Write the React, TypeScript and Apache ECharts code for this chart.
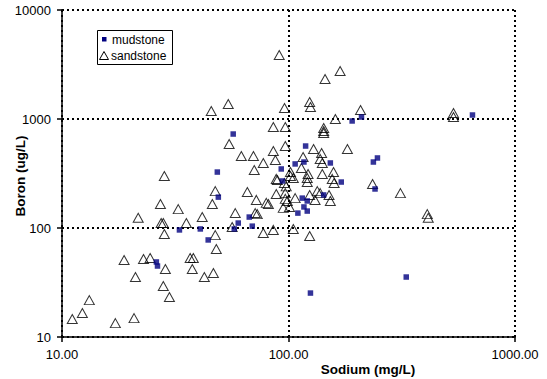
import React, { useEffect, useRef } from 'react';
import * as echarts from 'echarts';

const FONT = "'Liberation Sans', Arial, sans-serif";

// Mudstone samples: sodium (mg/L), boron (ug/L)
const mudSodium = [57.0, 48.5, 92.9, 107, 117, 119, 153, 191, 210, 649, 237, 247, 94, 171, 241, 143, 115, 121, 117, 110, 121, 331, 125, 49, 33, 40.8, 44.2, 26.1, 26.4, 57.6, 60, 67.1, 69.2];
const mudBoron = [728, 326, 348, 387, 403, 565, 395, 959, 1043, 1088, 403, 439, 270, 264, 228, 201, 188, 177, 156, 137, 143, 35.5, 25.3, 192, 96, 98, 77.7, 48.8, 44.8, 98, 111, 126, 104];

// Sandstone samples: sodium (mg/L), boron (ug/L)
const sandSodium = [
  91, 169, 145, 124, 125, 96, 208, 45.6, 54.2, 535, 535, 161, 85.7, 96.8, 143, 143, 143,
  54.7, 96.8, 129, 182, 85.7, 140, 61.9, 70, 116, 138, 141, 87.5, 77.4, 70.6, 88.3, 114,
  102, 141, 158, 156, 159, 122, 121, 121, 102, 105, 95.9, 235, 312, 410, 414, 105, 124,
  85.7, 28.3, 88.3, 96.8, 96.8, 107, 124, 134, 138, 151, 153, 131, 79.8, 81.5, 94.8, 101,
  98.8, 97.7, 89.3, 47.5, 65.8, 72.1, 46.1, 27.2, 32.6, 58.2, 71.3, 72.8, 21.7, 41.6, 35.4,
  27.4, 28, 56.4, 77.4, 28.3, 47.5, 48, 18.8, 22.9, 24.5, 36.8, 38, 28.6, 37.6, 21.1, 42.5,
  46.6, 28, 29.8, 13.2, 12.3, 11.1, 17.2, 20.8
];
const sandBoron = [
  3866, 2754, 2327, 1432, 1288, 1262, 1210, 1184, 1373, 1135, 1043, 1000, 845, 845, 827, 776, 745,
  590, 565, 531, 531, 509, 488, 458, 458, 448, 429, 395, 421, 395, 340, 282, 355,
  326, 313, 326, 282, 259, 313, 288, 264, 300, 288, 259, 253, 209, 134, 124, 98, 84.5,
  96, 300, 205, 209, 185, 188, 201, 218, 209, 201, 177, 181, 170, 166, 153, 156,
  177, 241, 276, 218, 214, 181, 166, 166, 149, 137, 137, 134, 124, 126, 111,
  111, 111, 102, 90, 88, 86, 64.1, 50.9, 52, 53.1, 53.1, 53.1, 42, 42, 35.5, 35.5,
  38.7, 29.4, 23.3, 21.8, 16.6, 14.6, 13.4, 14.9
];

const legendNames = ['mudstone', 'sandstone'];
const xTitle = 'Sodium (mg/L)';
const yTitle = 'Boron (ug/L)';

export default function App() {
  const ref = useRef<HTMLDivElement>(null);
  useEffect(() => {
    if (!ref.current) return;
    const chart = echarts.init(ref.current, undefined, { renderer: 'svg' });
    const mud = mudSodium.map((x, i) => [x, mudBoron[i]]);
    const sand = sandSodium.map((x, i) => [x, sandBoron[i]]);
    const gridLine = { show: true, lineStyle: { color: '#000', type: [2, 3] as any, width: 2 } };
    chart.setOption({
      animation: false,
      backgroundColor: '#fff',
      grid: { left: 62, right: 32, top: 10, bottom: 42, containLabel: false, outerBoundsMode: 'none' },
      xAxis: {
        type: 'log', logBase: 10, min: 10, max: 1000,
        axisLine: { show: true, onZero: false, lineStyle: { color: '#000', width: 1.5 } },
        axisTick: { show: true, length: 5, lineStyle: { color: '#000', width: 1.5 } },
        minorTick: { show: false },
        splitLine: gridLine,
        axisLabel: {
          formatter: (v: number) => v.toFixed(2),
          color: '#000', fontSize: 13, fontFamily: FONT, margin: 11,
        },
      },
      yAxis: {
        type: 'log', logBase: 10, min: 10, max: 10000,
        axisLine: { show: true, onZero: false, lineStyle: { color: '#000', width: 1.5 } },
        axisTick: { show: true, length: 5, lineStyle: { color: '#000', width: 1.5 } },
        minorTick: { show: false },
        splitLine: gridLine,
        axisLabel: {
          formatter: (v: number) => String(Math.round(v)),
          color: '#000', fontSize: 13, fontFamily: FONT, margin: 11,
        },
      },
      series: [
        {
          name: legendNames[1], type: 'scatter', data: sand,
          symbol: 'triangle', symbolSize: [10, 9],
          itemStyle: { color: 'rgba(255,255,255,0)', borderColor: '#000', borderWidth: 1 },
        },
        {
          name: legendNames[0], type: 'scatter', data: mud,
          symbol: 'rect', symbolSize: 5.5,
          itemStyle: { color: '#000080' },
        },
      ],
      graphic: [
        { type: 'rect', shape: { x: 97.5, y: 30.5, width: 75, height: 34 }, style: { fill: '#fff', stroke: '#000', lineWidth: 1 } },
        { type: 'rect', shape: { x: 102, y: 37, width: 4.5, height: 4.5 }, style: { fill: '#000080' } },
        { type: 'polygon', shape: { points: [[104, 51.5], [99.5, 59.5], [108.5, 59.5]] }, style: { fill: 'none', stroke: '#000', lineWidth: 1 } },
        { type: 'text', x: 112, y: 39.5, style: { text: legendNames[0], font: `12px ${FONT}`, fill: '#000', verticalAlign: 'middle' } },
        { type: 'text', x: 111, y: 56, style: { text: legendNames[1], font: `12px ${FONT}`, fill: '#000', verticalAlign: 'middle' } },
        { type: 'text', x: 368, y: 369, style: { text: xTitle, font: `bold 13.5px ${FONT}`, fill: '#000', align: 'center', verticalAlign: 'middle' } },
        { type: 'text', x: 20, y: 176, rotation: Math.PI / 2, style: { text: yTitle, font: `bold 13.5px ${FONT}`, fill: '#000', align: 'center', verticalAlign: 'middle' } },
      ],
    });
    return () => chart.dispose();
  }, []);
  return <div ref={ref} style={{ position: 'absolute', left: 0, top: 0, width: 547, height: 379 }} />;
}
